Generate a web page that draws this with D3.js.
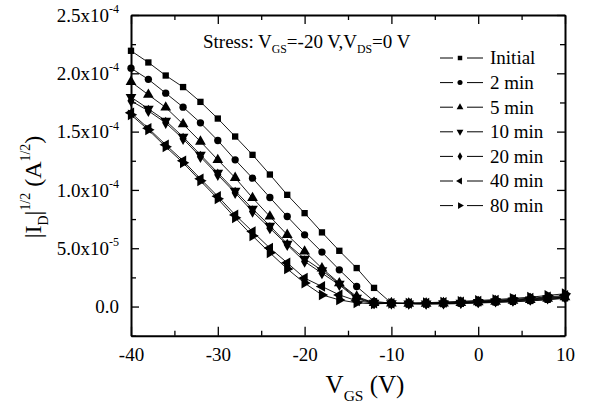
<!DOCTYPE html>
<html>
<head>
<meta charset="utf-8">
<script src="https://cdn.jsdelivr.net/npm/d3@7/dist/d3.min.js"></script>
<style>
  html, body { margin: 0; padding: 0; background: #fff; }
  svg { display: block; }
  svg text, svg tspan { font-family: "Liberation Serif", "Times New Roman", Tinos, "DejaVu Serif", serif !important; fill: #000; }
</style>
</head>
<body>
<svg id="chart" width="590" height="408" font-family="Liberation Serif"></svg>
<script>
// ---------- data (|I_D|^1/2 in units of 1e-5 A^1/2) ----------
const vgs = [-40,-38,-36,-34,-32,-30,-28,-26,-24,-22,-20,-18,-16,-14,-12,-10,-8,-6,-4,-2,0,2,4,6,8,10];
const seriesNames = ["Initial","2 min","5 min","10 min","20 min","40 min","80 min"];
const initial = [21.93,20.93,19.81,18.82,17.55,16.12,14.58,13.01,11.32,9.58,8.01,6.36,4.78,3.30,1.60,0.29,0.25,0.22,0.22,0.25,0.30,0.35,0.40,0.48,0.58,0.70];
const min2    = [20.44,19.48,18.30,17.10,15.75,14.24,12.58,11.01,9.35,7.72,6.15,4.67,3.15,1.72,0.45,0.28,0.25,0.22,0.25,0.28,0.33,0.38,0.45,0.52,0.62,0.75];
const min5    = [19.27,18.16,17.07,15.64,14.15,12.58,11.04,9.32,7.72,6.15,4.72,3.28,2.01,0.86,0.32,0.28,0.25,0.25,0.28,0.32,0.38,0.42,0.50,0.58,0.68,0.80];
const min10   = [17.96,16.95,15.93,14.55,13.01,11.47,9.92,8.38,6.92,5.38,4.10,3.10,1.95,0.75,0.32,0.28,0.25,0.25,0.28,0.32,0.38,0.45,0.52,0.60,0.70,0.82];
const min20   = [17.64,16.78,15.75,14.38,12.84,11.30,9.75,8.15,6.72,5.29,3.86,2.86,1.86,0.66,0.29,0.28,0.27,0.27,0.30,0.35,0.40,0.48,0.55,0.65,0.75,0.88];
const min40   = [16.61,15.28,13.87,12.50,10.95,9.45,7.86,6.43,5.01,3.75,2.44,1.72,1.00,0.49,0.29,0.28,0.28,0.30,0.35,0.40,0.47,0.55,0.62,0.72,0.82,0.95];
const min80   = [16.44,15.15,13.70,12.33,10.78,9.24,7.61,6.06,4.61,3.23,2.01,1.00,0.57,0.32,0.23,0.28,0.30,0.33,0.38,0.45,0.52,0.60,0.70,0.80,0.95,1.10];
const seriesValues = [initial, min2, min5, min10, min20, min40, min80];

const xTicks = [-40,-30,-20,-10,0,10];
const xTickLabels = ["-40","-30","-20","-10","0","10"];
const xMinorTicks = [-35,-25,-15,-5,5];
const yTicks = [0,5,10,15,20,25];
const yMinorTicks = [-2.5,2.5,7.5,12.5,17.5,22.5];
const yTickMantissa = ["0.0","5.0","1.0","1.5","2.0","2.5"];
const yTickExponent = [null,"-5","-4","-4","-4","-4"];

// ---------- layout ----------
const svg = d3.select("#chart");
const FONT = "Liberation Serif";
const L = 131, R = 565, T = 15, B = 335.7;
const x = d3.scaleLinear().domain([-40,10]).range([L,R]);
const y = d3.scaleLinear().domain([-2.5,25]).range([B,T]);

// symbols: square, circle, up, down, diamond, left, right
const symTypes = [d3.symbolSquare, d3.symbolCircle, d3.symbolTriangle, d3.symbolTriangle, d3.symbolDiamond, d3.symbolTriangle, d3.symbolTriangle];
const symRot = [0,0,0,180,0,-90,90];
const symSize = [40,42,50,50,44,50,50];

// ---------- series ----------
const line = d3.line().x(d => x(d[0])).y(d => y(d[1]));
const gData = svg.append("g");
seriesValues.forEach((vals, i) => {
  const pts = vgs.map((v, k) => [v, vals[k]]);
  gData.append("path").datum(pts).attr("d", line)
    .attr("fill","none").attr("stroke","#000").attr("stroke-width",0.9);
});
seriesValues.forEach((vals, i) => {
  const pts = vgs.map((v, k) => [v, vals[k]]);
  gData.append("g").selectAll("path").data(pts).join("path")
    .attr("d", d3.symbol().type(symTypes[i]).size(symSize[i]))
    .attr("transform", d => `translate(${x(d[0])},${y(d[1])}) rotate(${symRot[i]})`)
    .attr("fill","#000");
});

// ---------- axes ----------
function styleAxis(g, width) {
  g.attr("font-family", FONT);
  g.select(".domain").attr("stroke","#000").attr("stroke-width",width);
  g.selectAll(".tick line").attr("stroke","#000").attr("stroke-width",1.3);
}
const fs = 19;
// bottom
const gx = svg.append("g").attr("transform",`translate(0,${B})`)
  .call(d3.axisBottom(x).tickValues(xTicks).tickSizeInner(-9).tickSizeOuter(0).tickPadding(12)
        .tickFormat((d, i) => xTickLabels[i]));
styleAxis(gx, 2);
gx.selectAll(".tick text").attr("font-size",fs).attr("font-family",FONT);
svg.append("g").attr("transform",`translate(0,${B})`)
  .call(d3.axisBottom(x).tickValues(xMinorTicks).tickSizeInner(-5).tickSizeOuter(0).tickFormat(""))
  .call(g => { g.select(".domain").remove(); styleAxis(g,1); });
// top
const gt = svg.append("g").attr("transform",`translate(0,${T})`)
  .call(d3.axisTop(x).tickValues(xTicks).tickSizeInner(-9).tickSizeOuter(0).tickFormat(""));
styleAxis(gt, 2);
svg.append("g").attr("transform",`translate(0,${T})`)
  .call(d3.axisTop(x).tickValues(xMinorTicks).tickSizeInner(-5).tickSizeOuter(0).tickFormat(""))
  .call(g => { g.select(".domain").remove(); styleAxis(g,1); });
// left
const gy = svg.append("g").attr("transform",`translate(${L},0)`)
  .call(d3.axisLeft(y).tickValues(yTicks).tickSizeInner(-8).tickSizeOuter(0).tickPadding(12).tickFormat(""));
styleAxis(gy, 2);
gy.selectAll(".tick text").each(function(d, i) {
  const t = d3.select(this).attr("font-size",fs).attr("font-family",FONT).attr("dy","0.32em");
  t.text(null);
  if (yTickExponent[i]) {
    t.append("tspan").text(yTickMantissa[i] + "x10");
    t.append("tspan").attr("font-size",12).attr("dy","-0.7em").text(yTickExponent[i]);
  } else {
    t.append("tspan").text(yTickMantissa[i]);
  }
});
svg.append("g").attr("transform",`translate(${L},0)`)
  .call(d3.axisLeft(y).tickValues(yMinorTicks).tickSizeInner(-5).tickSizeOuter(0).tickFormat(""))
  .call(g => { g.select(".domain").remove(); styleAxis(g,1); });
// right
const gr = svg.append("g").attr("transform",`translate(${R},0)`)
  .call(d3.axisRight(y).tickValues(yTicks).tickSizeInner(-8).tickSizeOuter(0).tickFormat(""));
styleAxis(gr, 2);
svg.append("g").attr("transform",`translate(${R},0)`)
  .call(d3.axisRight(y).tickValues(yMinorTicks).tickSizeInner(-5).tickSizeOuter(0).tickFormat(""))
  .call(g => { g.select(".domain").remove(); styleAxis(g,1); });

// ---------- rich text helper ----------
function richText(g, parts, base, ratio) {
  ratio = ratio || 0.62;
  let cur = 0;
  parts.forEach(p => {
    const target = p.mode === "sub" ? base*0.3 : p.mode === "sup" ? -base*0.45 : 0;
    const s = g.append("tspan").text(p.t).attr("dy", target - cur);
    if (p.mode !== "n") s.attr("font-size", base*ratio);
    cur = target;
  });
}

// stress annotation
const st = svg.append("text").attr("x",203).attr("y",47.5).attr("font-size",19).attr("font-family",FONT);
richText(st, [{t:"Stress: V",mode:"n"},{t:"GS",mode:"sub"},{t:"=-20 V,V",mode:"n"},{t:"DS",mode:"sub"},{t:"=0 V",mode:"n"}], 19);

// x label
const xl = svg.append("text").attr("x",365).attr("y",393).attr("text-anchor","middle").attr("font-size",25).attr("font-family",FONT);
richText(xl, [{t:"V",mode:"n"},{t:"GS",mode:"sub"},{t:" (V)",mode:"n"}], 25);

// y label
const yl = svg.append("text").attr("transform","translate(41,187) rotate(-90)").attr("text-anchor","middle").attr("font-size",24).attr("font-family",FONT);
richText(yl, [{t:"|I",mode:"n"},{t:"D",mode:"sub"},{t:"|",mode:"n"},{t:"1/2",mode:"sup"},{t:" (A",mode:"n"},{t:"1/2",mode:"sup"},{t:")",mode:"n"}], 24, 0.58);

// ---------- legend ----------
const lg = svg.append("g");
seriesNames.forEach((name, i) => {
  const yy = 58 + i*24.6;
  lg.append("line").attr("x1",440).attr("x2",453).attr("y1",yy).attr("y2",yy).attr("stroke","#000").attr("stroke-width",1);
  lg.append("line").attr("x1",467).attr("x2",483).attr("y1",yy).attr("y2",yy).attr("stroke","#000").attr("stroke-width",1);
  lg.append("path").attr("d", d3.symbol().type(symTypes[i]).size(20))
    .attr("transform",`translate(460,${yy}) rotate(${symRot[i]})`).attr("fill","#000");
  lg.append("text").attr("x",490).attr("y",yy+6.3).attr("font-size",19).attr("font-family",FONT).text(name);
});
</script>
</body>
</html>
